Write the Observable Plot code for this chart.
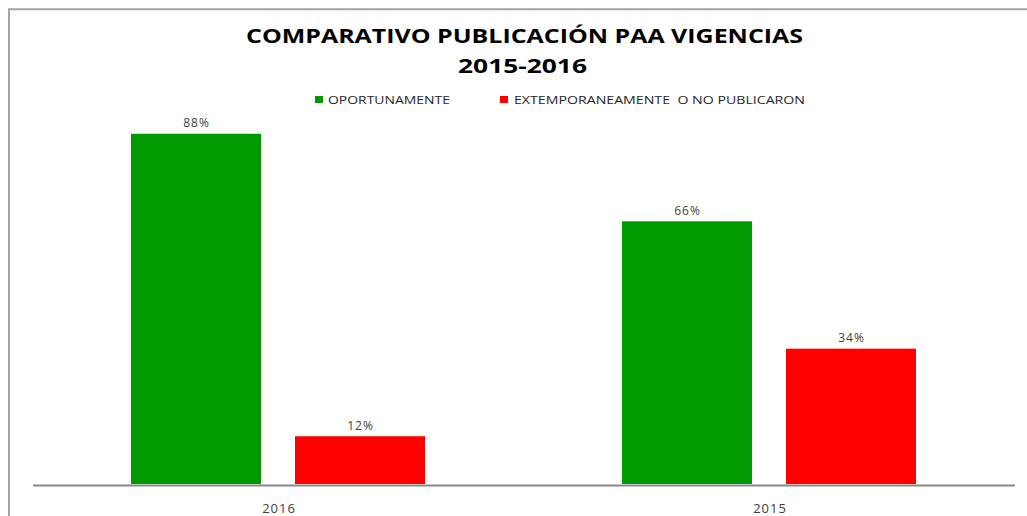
<!DOCTYPE html>
<html>
<head>
<meta charset="utf-8">
<script src="https://cdn.jsdelivr.net/npm/d3@7"></script>
<script src="https://cdn.jsdelivr.net/npm/@observablehq/plot@0.6"></script>
<style>
  html, body { margin: 0; padding: 0; background: #fff; }
  #wrap { position: relative; width: 1027px; height: 516px; overflow: hidden; }
  #chart { position: absolute; left: 0; top: 0; }
  #chart svg text { letter-spacing: 1px; }
  #overlay { position: absolute; left: 0; top: 0; pointer-events: none; }
</style>
</head>
<body>
<div id="wrap">
  <div id="chart"></div>
  <svg id="overlay" width="1027" height="516" font-family="'Open Sans', sans-serif">
    <path d="M9,516 V9.3 H1027" fill="none" stroke="#a3a3a3" stroke-width="2"/>
    <text id="t1" x="524.5" y="43" text-anchor="middle" font-size="20" font-weight="700" fill="#000" textLength="557" lengthAdjust="spacingAndGlyphs"></text>
    <text id="t2" x="522.5" y="73" text-anchor="middle" font-size="20" font-weight="700" fill="#000" textLength="129" lengthAdjust="spacingAndGlyphs"></text>
    <g id="legend"></g>
  </svg>
</div>
<script>
// ---- data ----
const titleLines = ["COMPARATIVO PUBLICACIÓN PAA VIGENCIAS", "2015-2016"];
const years = ["2016", "2015"];
const series = ["OPORTUNAMENTE", "EXTEMPORANEAMENTE  O NO PUBLICARON"];
const oportunamente = [88, 66];
const extemporaneamente = [12, 34];
const colors = ["#009900", "#ff0000"];

const data = years.flatMap((y, i) => [
  {year: y, serie: series[0], value: oportunamente[i]},
  {year: y, serie: series[1], value: extemporaneamente[i]}
]);

const chart = Plot.plot({
  width: 1027,
  height: 516,
  marginTop: 86,
  marginBottom: 32,
  marginLeft: 33,
  marginRight: 12,
  style: {fontFamily: "'Open Sans', sans-serif", fontSize: "13px", color: "#404040", background: "transparent"},
  fx: {domain: years, padding: 0, label: null, tickSize: 0, tickPadding: 19, axis: "bottom"},
  x: {domain: series, paddingInner: 0.2073, paddingOuter: 0.6006, axis: null},
  y: {domain: [0, 100], axis: null},
  color: {domain: series, range: colors},
  marks: [
    Plot.barY(data, {fx: "year", x: "serie", y: "value", fill: "serie"}),
    Plot.ruleY([0], {stroke: "#878787", strokeWidth: 2, dy: 1}),
    Plot.text(data, {fx: "year", x: "serie", y: "value", text: d => d.value + "%", dy: -11, fontSize: 12, fill: "#404040"})
  ]
});
document.getElementById("chart").appendChild(chart);

// ---- title ----
document.getElementById("t1").textContent = titleLines[0];
document.getElementById("t2").textContent = titleLines[1];

// ---- legend ----
const legendLayout = [
  {sx: 315, tx: 328, tw: 122},
  {sx: 500, tx: 514, tw: 291}
];
const lg = d3.select("#legend");
series.forEach((s, i) => {
  const L = legendLayout[i];
  lg.append("rect").attr("x", L.sx).attr("y", 96).attr("width", 8).attr("height", 7).attr("fill", colors[i]);
  lg.append("text").attr("x", L.tx).attr("y", 104).attr("font-size", 11).attr("fill", "#262626")
    .attr("textLength", L.tw).attr("lengthAdjust", "spacingAndGlyphs")
    .style("white-space", "pre").text(s);
});
</script>
</body>
</html>
